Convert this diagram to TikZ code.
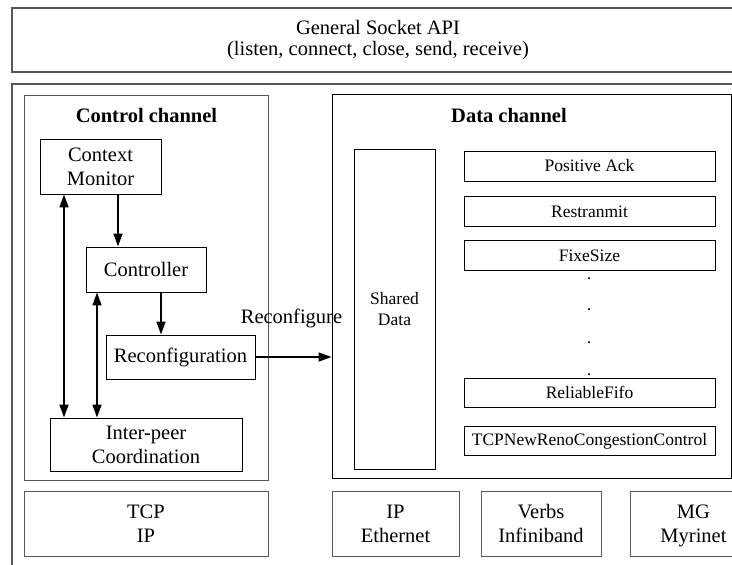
\documentclass[tikz,border=0pt]{standalone}
\usepackage{fontspec}
\setmainfont{Liberation Serif}
\usetikzlibrary{positioning, arrows.meta, calc}

\newcommand{\bigtxt}{\fontsize{20.5}{24}\selectfont}
\newcommand{\apitxt}{\fontsize{20.5}{21.5}\selectfont}
\newcommand{\smalltxt}{\fontsize{17.5}{21}\selectfont}

\begin{document}
\begin{tikzpicture}[x=1pt, y=-1pt, >={Triangle[length=13pt, width=9pt]},
  every node/.style={font=\bigtxt, align=center, inner sep=0pt},
  frame/.style={draw=black!65, line width=1.3pt},
  box/.style={draw, line width=0.9pt},
  layer/.style={draw=black!65, line width=1pt, minimum height=65pt},
  module/.style={box, font=\smalltxt, minimum width=251pt, minimum height=30pt},
  link/.style={->, line width=1.7pt},
  dlink/.style={<->, line width=1.7pt}]

\useasboundingbox (0,0) rectangle (732,565);
\clip (0,0) rectangle (732,565);

% API layer
\node (api) [frame, font=\apitxt, minimum width=732pt, minimum height=64pt] at (378,40) {General Socket API\\(listen, connect, close, send, receive)};
\draw[frame] (12,84) rectangle (760,600);

% Control channel
\node (ctrl) [frame, line width=1pt, minimum width=244pt, minimum height=385pt] at (146,287.5) {};
\node (ctrltitle) [anchor=base, font=\bigtxt\bfseries] at (146.5,122) {Control channel};
\node (monitor) [box, minimum width=121pt, minimum height=55pt] at (100.5,166.5) {Context\\Monitor};
\node (controller) [box, minimum width=120pt, minimum height=45pt] at (146,269.5) {Controller};
\node (reconf) [box, minimum width=149pt, minimum height=44pt] at (180.5,357) {Reconfiguration};
\node (peer) [box, minimum width=192pt, minimum height=53pt] at (146,444.5) {Inter-peer\\Coordination};

% Data channel
\node (data) [box, minimum width=399pt, minimum height=384pt] at (531.5,286) {};
\node (datatitle) [anchor=base, font=\bigtxt\bfseries] at (509,122) {Data channel};
\node (shared) [box, font=\smalltxt, minimum width=81pt, minimum height=320pt] at (394.5,309) {Shared\\Data};
\node (ack) [module] at (589.5,166) {Positive Ack};
\node (retx) [module, below=15pt of ack] {Restranmit};
\node (fixe) [module, below=13pt of retx] {FixeSize};
\node (dotA) [font=\smalltxt] at (589,279) {.};
\node (dotB) [font=\smalltxt] at (589,310) {.};
\node (dotC) [font=\smalltxt] at (589,343) {.};
\node (dotD) [font=\smalltxt] at (589,375) {.};
\node (fifo) [module, minimum height=29pt] at (589.5,392.5) {ReliableFifo};
\node (reno) [module, minimum height=29pt, below=19pt of fifo] {TCPNewRenoCongestionControl};

% Transport layers (bottom)
\node (tcp) [layer, minimum width=244pt] at (146,524) {TCP\\IP};
\node (ipeth) [layer, minimum width=127pt] at (395.5,523.5) {IP\\Ethernet};
\node (verbs) [layer, minimum width=120pt, right=21pt of ipeth] {Verbs\\Infiniband};
\node (mg) [layer, minimum width=127pt, right=28pt of verbs] {MG\\\raisebox{0pt}[\height][0pt]{Myrinet}};

% Control arrows
\coordinate (mc) at ([xshift=17.5pt]monitor.south);
\coordinate (cr) at ([xshift=15pt]controller.south);
\coordinate (mp) at ([xshift=-36.5pt]monitor.south);
\coordinate (cp) at ([xshift=-49pt]controller.south);
\draw[link] (mc) -- (mc |- controller.north);
\draw[link] (cr) -- (cr |- reconf.north);
\draw[dlink] (mp) -- (mp |- peer.north);
\draw[dlink] (cp) -- (cp |- peer.north);

% Reconfigure arrow
\draw[link] (reconf.east) -- (reconf.east -| data.west) node[midway, above=28pt, xshift=-2pt] {Reconfigure};

\end{tikzpicture}
\end{document}
